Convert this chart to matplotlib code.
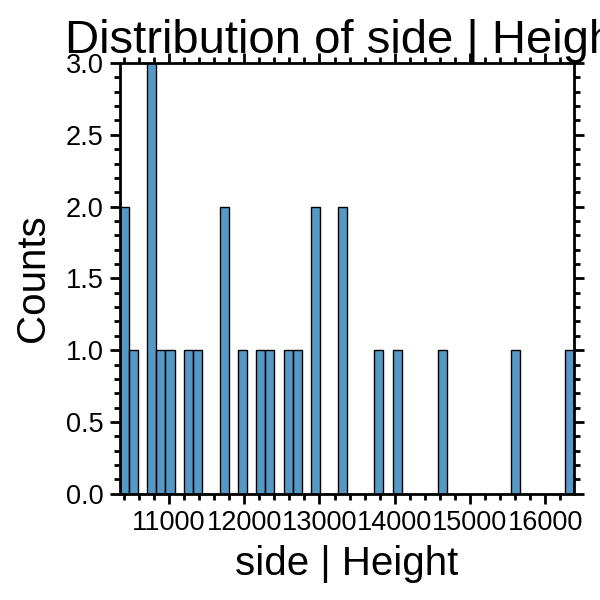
import matplotlib
matplotlib.use("Agg")
import matplotlib.pyplot as plt
import seaborn as sns
from matplotlib.ticker import MultipleLocator

heights = [10348, 10400, 10520, 10750, 10780, 10800, 10890, 11010, 11250, 11370,
           11720, 11750, 11980, 12220, 12340, 12580, 12700, 12930, 12960, 13290,
           13320, 13790, 14030, 14630, 15600, 16386]
n_bins = 50
title = "Distribution of side | Height"
xlabel = "side | Height"
ylabel = "Counts"

plt.rcParams['font.family'] = ['Liberation Sans', 'DejaVu Sans']
fig = plt.figure(figsize=(6, 6), dpi=100)
ax = fig.add_axes([0.2, 0.177, 0.757, 0.718])
sns.histplot(x=heights, bins=n_bins, ax=ax, color='#1f77b4', alpha=0.75,
             edgecolor='black', linewidth=1)
ax.set_xlim(min(heights), max(heights))
ax.set_ylim(0, 3.0)
ax.set_title(title, fontsize=34, pad=4)
ax.set_xlabel(xlabel, fontsize=29, labelpad=6)
ax.set_ylabel(ylabel, fontsize=29, labelpad=10)
ax.xaxis.set_major_locator(MultipleLocator(1000))
ax.xaxis.set_minor_locator(MultipleLocator(200))
ax.yaxis.set_major_locator(MultipleLocator(0.5))
ax.yaxis.set_minor_locator(MultipleLocator(0.1))
ax.tick_params(which='both', direction='out', top=True, right=True, width=2)
ax.tick_params(which='major', length=7, labelsize=19.5, pad=5)
ax.tick_params(which='minor', length=4)
for s in ax.spines.values():
    s.set_linewidth(2)
fig.savefig("out.png", dpi=100)
